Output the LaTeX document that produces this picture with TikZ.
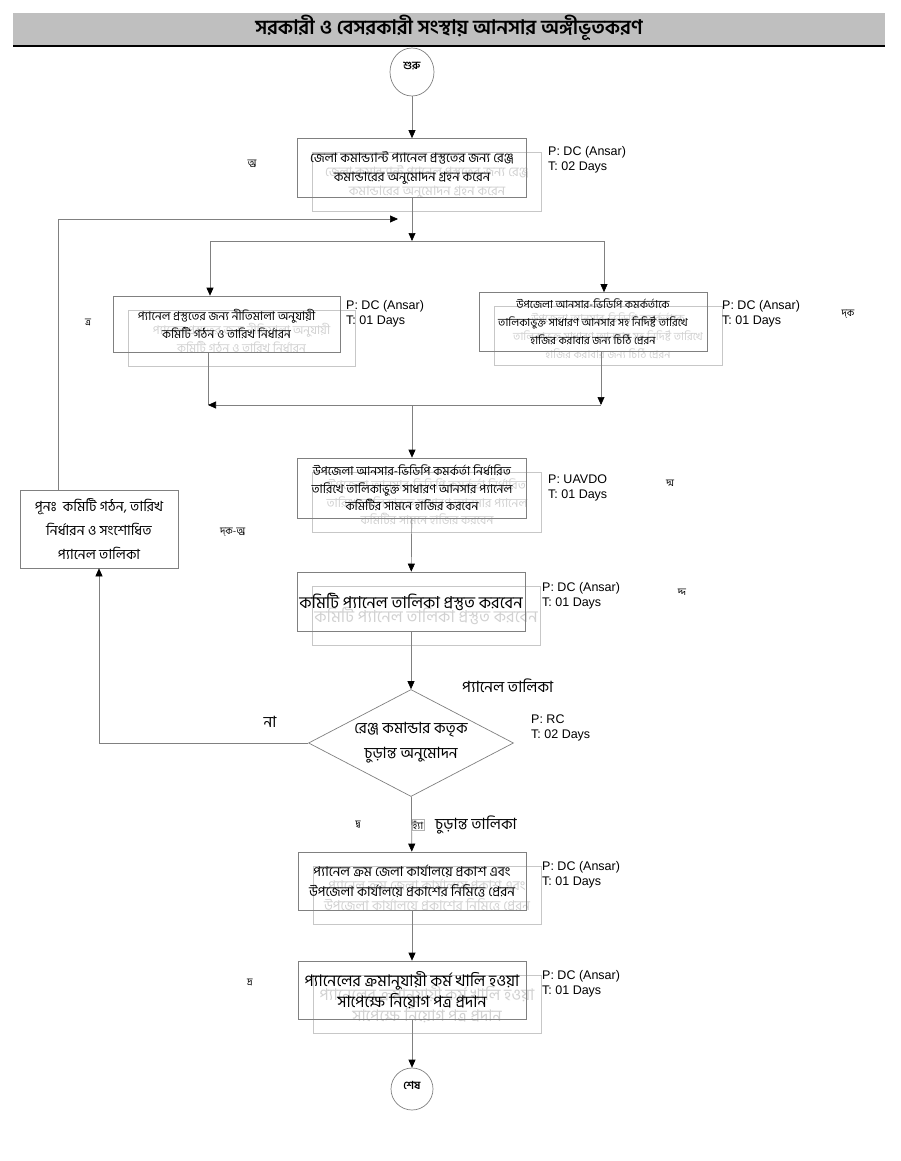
\documentclass[tikz,border=0pt]{standalone}
\usepackage{fontspec}
\setmainfont{Liberation Sans}
\newfontfamily\bn[Script=Bengali]{Hind Siliguri}
\usetikzlibrary{arrows.meta,shapes.geometric}
\begin{document}
\begin{tikzpicture}[x=1pt,y=-1pt,
  line/.style={draw=black!50, line width=0.7pt},
  arr/.style={line, -{Triangle[width=7pt,length=8pt,color=black]}},
  box/.style={draw=black!50, line width=0.7pt, minimum width=229pt, minimum height=59pt, align=center, inner sep=2pt},
  ghost/.style={draw=black!22, text=black!18},
  fA/.style={font=\bn\fontsize{13}{19}\selectfont},
  fB/.style={font=\bn\fontsize{12}{18}\selectfont},
  fC/.style={font=\bn\fontsize{11}{18}\selectfont},
  fD/.style={font=\bn\fontsize{12.2}{17.5}\selectfont},
  fE/.style={font=\bn\fontsize{16.5}{18}\selectfont},
  fF/.style={font=\bn\fontsize{13.5}{20}\selectfont},
  fG/.style={font=\bn\fontsize{16}{21}\selectfont},
  info/.style={anchor=west, align=left, inner sep=0pt, font=\fontsize{12.5}{15}\selectfont},
  side/.style={inner sep=0pt, font=\bn\fontsize{10}{12}\selectfont},
  lbl/.style={inner sep=0pt, font=\bn\fontsize{15.5}{18}\selectfont},
]
\useasboundingbox (0,0) rectangle (900,1161);
\fill[white] (0,0) rectangle (900,1161);
% title
\fill[black!25] (13,13) rectangle (885,45);
\draw[line width=2pt] (13,46) -- (885,46);
\node[inner sep=0pt, font=\bn\bfseries\fontsize{20}{22}\selectfont] (title) at (449,28) {সরকারী ও বেসরকারী সংস্থায় আনসার অঙ্গীভূতকরণ};

% start
\node[ellipse, draw=black!50, line width=0.7pt, minimum width=44pt, minimum height=48pt] (start) at (412,72) {};
\node[inner sep=0pt, font=\bn\bfseries\fontsize{11}{12}\selectfont] (starttext) at (412,66) {শুরু};

% ghost boxes
\node[box, ghost, fA] (g1) at (427,182) {জেলা কমান্ড্যান্ট প্যানেল প্রস্তুতের জন্য রেঞ্জ\\কমান্ডারের অনুমোদন গ্রহন করেন};
\node[box, ghost, fB, minimum width=227pt, minimum height=56pt] (g2) at (241.5,338) {প্যানেল প্রস্তুতের জন্য নীতিমালা অনুযায়ী\\কমিটি গঠন ও তারিখ নির্ধারন};
\node[box, ghost, fC, minimum width=228pt] (g3) at (608,336) {উপজেলা আনসার-ভিডিপি কমর্কর্তাকে\\তালিকাভুক্ত সাধারণ আনসার সহ নিদির্ষ্ট তারিখে\\হাজির করাবার জন্য চিঠি প্রেরন};
\node[box, ghost, fD, minimum height=60pt] (g4) at (427,502) {উপজেলা আনসার-ভিডিপি কমর্কর্তা নির্ধারিত\\তারিখে তালিকাভুক্ত সাধারণ আনসার প্যানেল\\কমিটির সামনে হাজির করবেন};
\node[box, ghost, fE, minimum width=228pt] (g5) at (426,616) {কমিটি প্যানেল তালিকা প্রস্তুত করবেন};
\node[box, ghost, fF, minimum width=228pt, minimum height=58pt] (g6) at (427,895) {প্যানেল ক্রম জেলা কার্যালয়ে প্রকাশ এবং\\উপজেলা কার্যালয়ে প্রকাশের নিমিত্তে প্রেরন};
\node[box, ghost, fG, minimum width=228pt, minimum height=58pt] (g7) at (427,1004) {প্যানেলের ক্রমানুযায়ী কর্ম খালি হওয়া\\সাপেক্ষে নিয়োগ পত্র প্রদান};

% main boxes
\node[box, fA] (b1) at (412,168) {জেলা কমান্ড্যান্ট প্যানেল প্রস্তুতের জন্য রেঞ্জ\\কমান্ডারের অনুমোদন গ্রহন করেন};
\node[box, fB, minimum width=227pt, minimum height=56pt] (b2) at (226.5,324) {প্যানেল প্রস্তুতের জন্য নীতিমালা অনুযায়ী\\কমিটি গঠন ও তারিখ নির্ধারন};
\node[box, fC, minimum width=228pt] (b3) at (593,322) {উপজেলা আনসার-ভিডিপি কমর্কর্তাকে\\তালিকাভুক্ত সাধারণ আনসার সহ নিদির্ষ্ট তারিখে\\হাজির করাবার জন্য চিঠি প্রেরন};
\node[box, fD, minimum height=60pt] (b4) at (412,488) {উপজেলা আনসার-ভিডিপি কমর্কর্তা নির্ধারিত\\তারিখে তালিকাভুক্ত সাধারণ আনসার প্যানেল\\কমিটির সামনে হাজির করবেন};
\node[box, fE, minimum width=228pt] (b5) at (411,601.5) {কমিটি প্যানেল তালিকা প্রস্তুত করবেন};
\node[diamond, draw=black!50, line width=0.7pt, aspect=1.92, inner sep=0pt, minimum width=205pt, minimum height=107pt, align=center, font=\bn\fontsize{15.5}{25}\selectfont] (d) at (411,743) {রেঞ্জ কমান্ডার কতৃক\\চুড়ান্ত অনুমোদন};
\node[box, fF, minimum width=228pt, minimum height=58pt] (b6) at (412,881) {প্যানেল ক্রম জেলা কার্যালয়ে প্রকাশ এবং\\উপজেলা কার্যালয়ে প্রকাশের নিমিত্তে প্রেরন};
\node[box, fG, minimum width=228pt, minimum height=58pt] (b7) at (412,990) {প্যানেলের ক্রমানুযায়ী কর্ম খালি হওয়া\\সাপেক্ষে নিয়োগ পত্র প্রদান};
\node[box, minimum width=158pt, minimum height=78pt, font=\bn\fontsize{14}{24}\selectfont] (re) at (99,529) {পূনঃ\ \ কমিটি গঠন, তারিখ\\নির্ধারন ও সংশোধিত\\প্যানেল তালিকা};

% stop
\node[circle, draw=black!50, line width=0.7pt, minimum size=42pt] (stop) at (412,1089) {};
\node[inner sep=0pt, font=\bn\bfseries\fontsize{11}{12}\selectfont] (stoptext) at (412,1085) {শেষ};

% info labels
\node[info] (i1) at (548,160) {P: DC (Ansar)\\T: 02 Days};
\node[info] (i2) at (346,314) {P: DC (Ansar)\\T: 01 Days};
\node[info] (i3) at (722,314) {P: DC (Ansar)\\T: 01 Days};
\node[info] (i4) at (548,488) {P: UAVDO\\T: 01 Days};
\node[info] (i5) at (542,596) {P: DC (Ansar)\\T: 01 Days};
\node[info] (i6) at (531,728) {P: RC\\T: 02 Days};
\node[info] (i7) at (542,875) {P: DC (Ansar)\\T: 01 Days};
\node[info] (i8) at (542,984) {P: DC (Ansar)\\T: 01 Days};

% side marks
\node[side] (s1) at (252,164) {অ্র};
\node[side] (s2) at (88,322) {ত্র};
\node[side] (s3) at (848,314) {দ্ক};
\node[side] (s4) at (670,483) {দ্ম};
\node[side, anchor=west] (s5) at (220,532) {দ্ক-অ্র};
\node[side] (s6) at (682,592) {দ্দ};
\node[side] (s7) at (358,825) {দ্ব};
\node[side] (s8) at (250,982) {দ্র};

% other labels
\node[lbl, anchor=west] (pt) at (462,686) {প্যানেল তালিকা};
\node[lbl] (na) at (270,722) {না};
\node[side, draw=black!30, inner sep=1pt] (yes) at (418,825) {হ্যাঁ};
\node[lbl, anchor=west] (ct) at (435,825) {চুড়ান্ত তালিকা};

% junction coordinates
\coordinate (j1) at (412,241);
\coordinate (j1l) at (210,241);
\coordinate (j1r) at (604,241);
\coordinate (rt) at (58,219);
\coordinate (rend) at (398,219);
\coordinate (j2) at (412,405);
\coordinate (j2l) at (208,405);
\coordinate (j2r) at (601,405);

% connectors
\draw[arr] (start) -- (b1);
\draw[arr] (b1) -- (j1);
\draw[line] (j1l) -- (j1r);
\draw[arr] (j1l) -- (j1l |- b2.north);
\draw[arr] (j1r) -- (j1r |- b3.north);
\draw[arr] (re.north -| rt) -- (rt) -- (rend);
\draw[line] (b2.south -| j2l) -- (j2l);
\draw[arr] (j2) -- (j2l);
\draw[line] (j2) -- (j2r);
\draw[arr] (b3.south -| j2r) -- (j2r);
\draw[arr] (j2) -- (b4);
\draw[arr] (b4) -- (b5);
\draw[arr] (b5) -- (d);
\draw[arr] (d.west) -| (re.south);
\draw[arr] (d) -- (b6);
\draw[arr] (b6) -- (b7);
\draw[arr] (b7) -- (stop);
\end{tikzpicture}
\end{document}
